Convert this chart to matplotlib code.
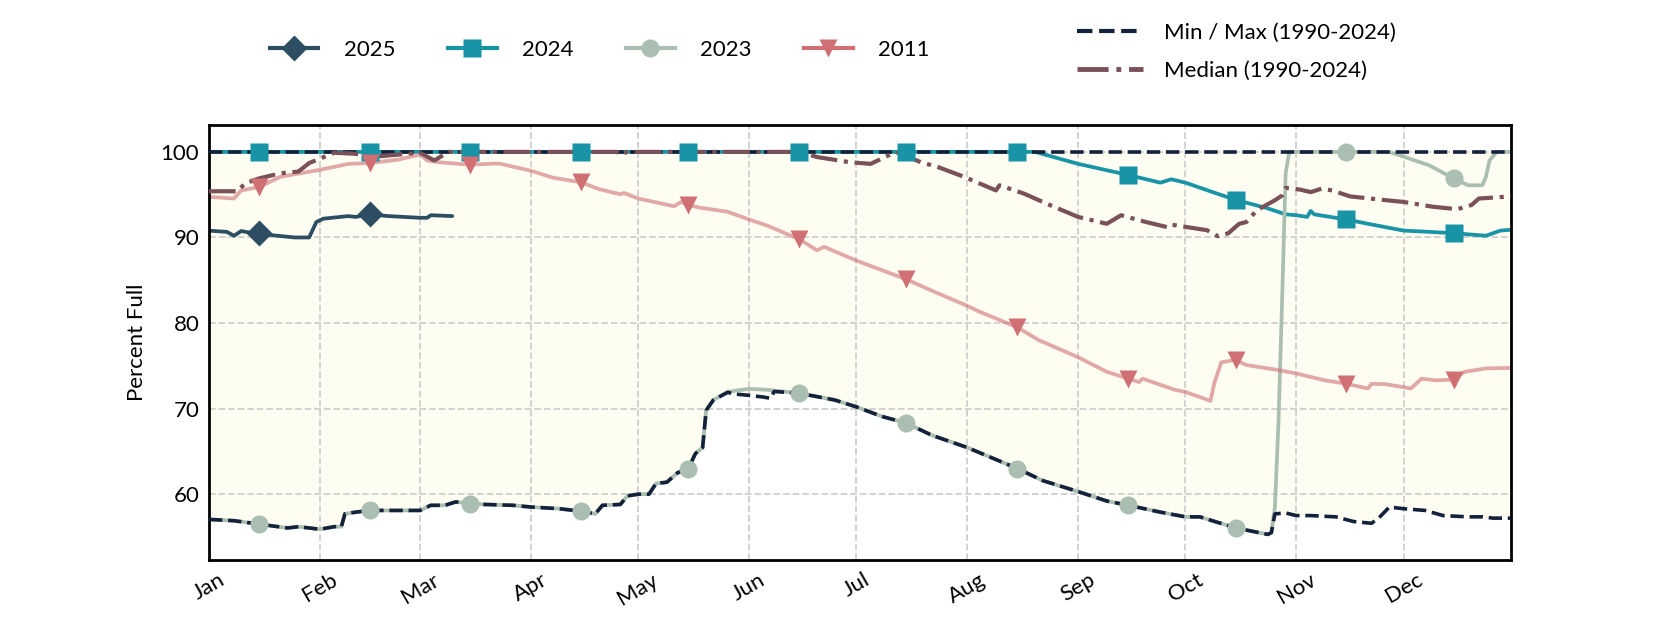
import numpy as np
import pandas as pd
import matplotlib
matplotlib.use("Agg")
import matplotlib.pyplot as plt
import matplotlib.dates as mdates
from matplotlib.lines import Line2D

plt.rcParams['font.family'] = ['Lato', 'DejaVu Sans']

YEAR = 2001  # common (non-leap) plotting year

# ---------------- data ----------------
d2025 = ["01-01", "01-06", "01-08", "01-10", "01-12", "01-15", "01-19", "01-25", "01-29",
         "01-31", "02-02", "02-09", "02-11", "02-15", "02-20", "03-01", "03-03", "03-04", "03-10"]
v2025 = [90.8, 90.65, 90.2, 90.75, 90.6, 90.5, 90.25, 90.0, 90.0,
         91.8, 92.2, 92.5, 92.4, 92.7, 92.5, 92.3, 92.3, 92.6, 92.5]

d2024 = ["01-01", "01-15", "02-15", "03-15", "04-15", "05-15", "06-15", "07-15", "08-15",
         "08-20", "09-01", "09-15", "09-24", "09-27", "10-01", "10-10", "10-15", "10-24",
         "10-29", "11-01", "11-04", "11-05", "11-06", "11-15", "11-21", "12-01", "12-06",
         "12-15", "12-24", "12-28", "12-31"]
v2024 = [100, 100, 100, 100, 100, 100, 100, 100, 100,
         100, 98.6, 97.3, 96.4, 96.8, 96.4, 95.1, 94.4, 93.4,
         92.7, 92.6, 92.4, 93.1, 92.7, 92.1, 91.6, 90.8, 90.7,
         90.5, 90.2, 90.8, 90.9]

d2023 = ["01-01", "01-08", "01-15", "01-23", "01-26", "02-01", "02-05", "02-07", "02-08",
         "02-11", "02-15", "02-23", "03-01", "03-04", "03-08", "03-11", "03-15", "03-19",
         "03-27", "04-01", "04-09", "04-15", "04-19", "04-21", "04-26", "04-28", "05-01",
         "05-04", "05-06", "05-09", "05-12", "05-15", "05-17", "05-19", "05-20", "05-22",
         "05-26", "05-30", "06-01", "06-06", "06-15", "06-25", "07-01", "07-08", "07-15",
         "07-22", "08-01", "08-05", "08-15", "08-22", "09-01", "09-09", "09-15", "09-24",
         "10-01", "10-05", "10-15", "10-24", "10-25", "10-26", "10-27", "10-28", "10-29",
         "10-30", "11-15", "11-27", "12-02", "12-08", "12-15", "12-19", "12-23", "12-24",
         "12-25", "12-27", "12-31"]
v2023 = [57.05, 56.9, 56.5, 56.05, 56.2, 55.9, 56.2, 56.2, 57.7,
         57.9, 58.1, 58.1, 58.1, 58.7, 58.7, 59.1, 58.9, 58.8,
         58.7, 58.5, 58.3, 58.0, 57.7, 58.7, 58.8, 59.8, 60.0,
         60.0, 61.25, 61.4, 62.5, 63.0, 64.75, 65.45, 69.8, 71.0,
         71.95, 72.2, 72.3, 72.2, 71.8, 71.0, 70.2, 69.1, 68.3,
         66.9, 65.45, 64.75, 63.0, 61.6, 60.3, 59.2, 58.7, 57.9,
         57.35, 57.35, 56.06, 55.3, 55.5, 58.5, 68.5, 82.5, 97.5,
         100, 100, 100, 99.3, 98.45, 96.9, 96.1, 96.1, 97.1,
         99.0, 100, 100]

d2011 = ["01-01", "01-08", "01-10", "01-15", "01-21", "02-01", "02-09", "02-15", "02-23",
         "03-01", "03-03", "03-06", "03-15", "03-23", "04-01", "04-07", "04-15", "04-20",
         "04-26", "04-27", "05-01", "05-11", "05-13", "05-15", "05-18", "05-26", "06-01",
         "06-06", "06-15", "06-20", "06-22", "07-01", "07-08", "07-15", "07-22", "08-01",
         "08-04", "08-15", "08-21", "09-01", "09-09", "09-15", "09-18", "09-19", "09-28",
         "10-01", "10-08", "10-09", "10-11", "10-15", "10-18", "10-27", "11-01", "11-09",
         "11-15", "11-21", "11-22", "11-26", "12-01", "12-03", "12-06", "12-10", "12-15",
         "12-18", "12-24", "12-31"]
v2011 = [94.75, 94.55, 95.5, 95.9, 97.1, 97.9, 98.6, 98.7, 99.1,
         99.7, 99.0, 98.8, 98.5, 98.65, 97.8, 97.0, 96.45, 95.65,
         95.05, 95.2, 94.55, 93.65, 94.15, 93.8, 93.5, 93.0, 92.1,
         91.4, 89.8, 88.5, 88.9, 87.3, 86.2, 85.1, 83.8, 82.0,
         81.4, 79.5, 78.0, 76.0, 74.3, 73.5, 73.1, 73.5, 72.2,
         71.95, 70.9, 72.9, 75.4, 75.7, 75.1, 74.5, 74.1, 73.3,
         72.9, 72.35, 72.9, 72.85, 72.5, 72.35, 73.5, 73.3, 73.4,
         74.3, 74.7, 74.75]

d_min = ["01-01", "01-08", "01-15", "01-23", "01-26", "02-01", "02-05", "02-07", "02-08",
         "02-11", "02-15", "02-23", "03-01", "03-04", "03-08", "03-11", "03-15", "03-19",
         "03-27", "04-01", "04-09", "04-15", "04-19", "04-21", "04-26", "04-28", "05-01",
         "05-04", "05-06", "05-09", "05-12", "05-15", "05-17", "05-19", "05-20", "05-22",
         "05-26", "05-28", "06-01", "06-05", "06-07", "06-08", "06-15", "06-25", "07-01",
         "07-08", "07-15", "07-22", "08-01", "08-05", "08-15", "08-22", "09-01", "09-09",
         "09-15", "09-24", "10-01", "10-05", "10-15", "10-24", "10-25", "10-26", "10-29",
         "11-01", "11-05", "11-12", "11-17", "11-22", "11-24", "11-27", "12-01", "12-07",
         "12-12", "12-19", "12-23", "12-26", "12-31"]
v_min = [57.05, 56.9, 56.5, 56.05, 56.2, 55.9, 56.2, 56.2, 57.7,
         57.9, 58.1, 58.1, 58.1, 58.7, 58.7, 59.1, 58.9, 58.8,
         58.7, 58.5, 58.3, 58.0, 57.7, 58.7, 58.8, 59.8, 60.0,
         60.0, 61.25, 61.4, 62.5, 63.0, 64.75, 65.45, 69.8, 71.0,
         71.9, 71.7, 71.55, 71.35, 71.2, 72.0, 71.8, 71.0, 70.2,
         69.1, 68.3, 66.9, 65.45, 64.75, 63.0, 61.6, 60.3, 59.2,
         58.7, 57.9, 57.35, 57.35, 56.06, 55.3, 55.5, 57.7, 57.8,
         57.5, 57.5, 57.35, 56.8, 56.6, 57.2, 58.5, 58.3, 58.1,
         57.5, 57.35, 57.35, 57.2, 57.2]

d_max = ["01-01", "12-31"]
v_max = [100, 100]

d_med = ["01-01", "01-09", "01-11", "01-15", "01-21", "01-26", "01-29", "02-01", "02-05",
         "02-10", "02-18", "02-26", "03-01", "03-05", "03-09", "04-25", "04-26", "04-28",
         "06-15", "06-20", "06-29", "07-05", "07-12", "07-19", "07-24", "07-31", "08-09",
         "08-10", "08-17", "08-24", "09-01", "09-09", "09-13", "09-20", "09-26", "09-27",
         "10-07", "10-10", "10-13", "10-16", "10-18", "10-21", "10-26", "10-28", "10-29",
         "11-02", "11-05", "11-08", "11-11", "11-16", "11-25", "12-01", "12-09", "12-16",
         "12-20", "12-22", "12-31"]
v_med = [95.4, 95.4, 96.3, 96.9, 97.5, 97.7, 98.7, 99.2, 99.9,
         99.8, 99.5, 99.8, 99.9, 99.0, 100, 100, 99.7, 100,
         100, 99.4, 98.8, 98.6, 100, 98.8, 98.2, 97.1, 95.5,
         96.1, 95.1, 93.8, 92.4, 91.6, 92.6, 91.8, 91.2, 91.5,
         90.85, 90.15, 90.5, 91.6, 91.8, 93.2, 94.35, 94.9, 95.8,
         95.6, 95.3, 95.7, 95.5, 94.8, 94.4, 94.15, 93.6, 93.3,
         93.8, 94.55, 94.8]

month_labels = ["Jan", "Feb", "Mar", "Apr", "May", "Jun",
                "Jul", "Aug", "Sep", "Oct", "Nov", "Dec"]
yticks = [60, 70, 80, 90, 100]

# ---------------- styling ----------------
C2025 = "#2d4d63"
C2024 = "#1994a6"
C2023 = "#abbeb2"
C2011 = "#d07074"
CMINMAX = "#13213a"
CMED = "#7a5158"
FILL = "#fdfdf2"
FS = 16


def to_dates(md):
    return pd.to_datetime([f"{YEAR}-{s}" for s in md])


fig = plt.figure(figsize=(16.8, 6.3), dpi=100)
ax = fig.add_axes([0.1244, 0.111, 0.775, 0.690])
ax.set_axisbelow(True)

x_min, x_max = to_dates(d_min), to_dates(d_max)
max_on_min = np.interp(mdates.date2num(x_min), mdates.date2num(x_max), v_max)
ax.fill_between(x_min, v_min, max_on_min, color=FILL, lw=0, zorder=0)

series = [
    (d2025, v2025, C2025, "D", 1.0, "2025"),
    (d2024, v2024, C2024, "s", 1.0, "2024"),
    (d2023, v2023, C2023, "o", 1.0, "2023"),
    (d2011, v2011, C2011, "v", 0.6, "2011"),
]
handles1 = []
for d, v, c, m, a, lab in series:
    x = to_dates(d)
    vals = np.asarray(v, dtype=float)
    ax.plot(x, vals, color=c, lw=2.7, alpha=a, zorder=2, solid_capstyle="round")
    mask = np.asarray(x.day == 15)
    ax.plot(x[mask], vals[mask], ls="none", marker=m, ms=13, color=c,
            mec="none", zorder=5)
    handles1.append(Line2D([], [], color=c, lw=3, marker=m, ms=13, mec="none",
                           label=lab))

ax.plot(x_max, v_max, color=CMINMAX, lw=2.6, ls="--", zorder=3)
ax.plot(x_min, v_min, color=CMINMAX, lw=2.6, ls="--", zorder=3)
ax.plot(to_dates(d_med), v_med, color=CMED, lw=3.0, ls="-.", zorder=3.5)

handles2 = [Line2D([], [], color=CMINMAX, lw=3, ls="--", label="Min / Max (1990-2024)"),
            Line2D([], [], color=CMED, lw=3.5, ls="-.", label="Median (1990-2024)")]

ax.set_xlim(pd.Timestamp(f"{YEAR}-01-01"), pd.Timestamp(f"{YEAR}-12-31"))
ax.set_ylim(52.3, 103.1)
month_starts = pd.date_range(f"{YEAR}-01-01", periods=12, freq="MS")
ax.set_xticks(month_starts)
ax.set_xticklabels(month_labels, rotation=30, ha="center")
ax.set_yticks(yticks)
ax.tick_params(length=0, pad=7, labelsize=FS, colors="black")
ax.grid(True, ls="--", color="#cfcfcf", lw=1.3)
for sp in ax.spines.values():
    sp.set_linewidth(2)
    sp.set_color("black")
ax.set_ylabel("Percent Full", fontsize=FS, labelpad=10)

fig.legend(handles=handles1, loc="center", bbox_to_anchor=(0.357, 0.921), ncol=4,
           frameon=False, fontsize=FS, handlelength=2.2, columnspacing=2.35,
           handletextpad=1.15)
fig.legend(handles=handles2, loc="center", bbox_to_anchor=(0.736, 0.918), ncol=1,
           frameon=False, fontsize=FS, handlelength=3.0, handletextpad=0.95,
           labelspacing=0.8)

fig.savefig("out.png", dpi=100)
